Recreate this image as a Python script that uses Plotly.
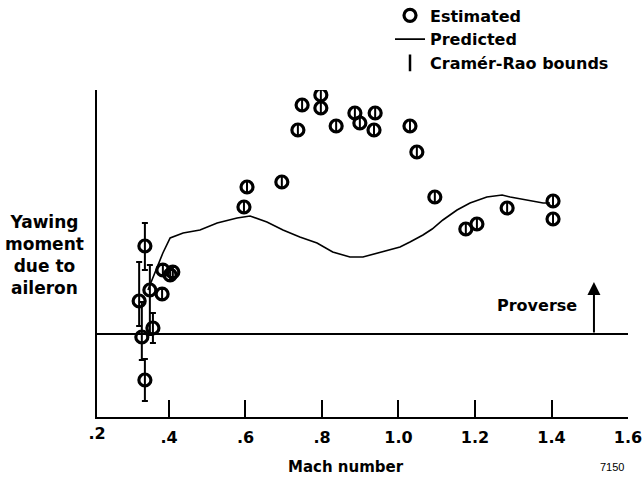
import plotly.graph_objects as go

# ---- data (arbitrary yaw-moment units; 0 = zero line) ----
est_mach = [0.596, 0.604, 0.695, 0.737, 0.748, 0.797, 0.797, 0.837, 0.886, 0.899,
            0.939, 0.936, 1.030, 1.048, 1.095, 1.176, 1.205, 1.284, 1.404, 1.404]
est_yaw = [2.54, 2.94, 3.04, 4.08, 4.58, 4.78, 4.52, 4.16, 4.42, 4.22,
           4.42, 4.08, 4.16, 3.64, 2.74, 2.10, 2.20, 2.52, 2.66, 2.30]
est_cr = [0.1] * len(est_mach)

low_mach = [0.337, 0.322, 0.350, 0.382, 0.384, 0.403, 0.410, 0.358, 0.329, 0.337]
low_yaw = [1.76, 0.66, 0.88, 0.80, 1.28, 1.18, 1.24, 0.12, -0.06, -0.92]
low_cr_plus = [0.46, 0.78, 0.50, 0.10, 0.10, 0.10, 0.10, 0.30, 0.70, 0.42]
low_cr_minus = [0.48, 0.50, 0.90, 0.10, 0.10, 0.10, 0.10, 0.30, 0.46, 0.42]

pred_mach = [0.345, 0.363, 0.384, 0.403, 0.437, 0.481, 0.526, 0.578, 0.612, 0.656,
             0.698, 0.742, 0.787, 0.828, 0.873, 0.907, 0.959, 1.004, 1.030, 1.064,
             1.088, 1.116, 1.153, 1.187, 1.231, 1.271, 1.292, 1.336, 1.378, 1.396]
pred_yaw = [0.88, 1.22, 1.62, 1.92, 2.02, 2.08, 2.22, 2.32, 2.36, 2.24,
            2.08, 1.94, 1.82, 1.64, 1.54, 1.54, 1.64, 1.74, 1.84, 1.98,
            2.10, 2.28, 2.48, 2.62, 2.74, 2.78, 2.74, 2.68, 2.62, 2.62]

tick_vals = [0.4, 0.6, 0.8, 1.0, 1.2, 1.4, 1.6]
tick_text = [".4", ".6", ".8", "1.0", "1.2", "1.4", "1.6"]
first_tick_val = [0.2]
first_tick_text = [".2"]

zero_yaw = 0.0
proverse_mach = 1.511
proverse_len = 1.04

FONT = "DejaVu Sans"
BOLD = dict(family=FONT, size=16, color="black", weight="bold")

marker = dict(symbol="circle-open", size=12, color="black", line=dict(width=3.2, color="black"))

fig = go.Figure()

fig.add_trace(go.Scatter(
    x=pred_mach, y=pred_yaw, mode="lines", name="Predicted",
    line=dict(color="black", width=1.6), legendrank=2))

fig.add_trace(go.Scatter(
    x=est_mach, y=est_yaw, mode="markers", name="Estimated", marker=marker,
    error_y=dict(type="data", array=est_cr, color="black", thickness=2, width=0),
    legendrank=1))

fig.add_trace(go.Scatter(
    x=low_mach, y=low_yaw, mode="markers", name="Estimated", marker=marker,
    showlegend=False,
    error_y=dict(type="data", symmetric=False, array=low_cr_plus, arrayminus=low_cr_minus,
                 color="black", thickness=2, width=3)))

# legend entry for the Cramer-Rao bounds (no data), also carries the '.2' label axis
fig.add_trace(go.Scatter(
    x=[None], y=[None], mode="markers", name="Cramér-Rao bounds", xaxis="x2",
    marker=dict(symbol="line-ns-open", size=12, color="black", line=dict(width=2.5, color="black")),
    legendrank=3))

# zero reference line across the plot
fig.add_shape(type="line", xref="x domain", yref="y", x0=0, x1=1, y0=zero_yaw, y1=zero_yaw,
              line=dict(color="black", width=2), layer="below")

fig.add_annotation(
    x=proverse_mach, y=proverse_len, ax=proverse_mach, ay=zero_yaw, xref="x", yref="y",
    axref="x", ayref="y", showarrow=True, arrowhead=2, arrowsize=1.3, arrowwidth=2,
    arrowcolor="black", text="")
fig.add_annotation(
    x=proverse_mach - 0.04, y=0.58, xref="x", yref="y", xanchor="right", showarrow=False,
    text="Proverse", font=BOLD)

fig.add_annotation(
    x=-0.098, y=0.495, xref="paper", yref="paper", showarrow=False, xanchor="center",
    text="Yawing<br>moment<br>due to<br>aileron", align="center",
    font=dict(family=FONT, size=17, color="black", weight="bold"))
fig.add_annotation(
    x=0.469, y=-0.153, xref="paper", yref="paper", showarrow=False,
    xanchor="center", yanchor="middle",
    text="Mach number", font=dict(family=FONT, size=15, color="black", weight="bold"))
fig.add_annotation(
    x=0.97, y=-0.153, xref="paper", yref="paper", showarrow=False,
    xanchor="center", yanchor="middle",
    text="7150", font=dict(family="Liberation Sans", size=11, color="black"))

fig.update_layout(
    width=642, height=480,
    margin=dict(l=97, r=14, t=90, b=63, autoexpand=False),
    paper_bgcolor="white", plot_bgcolor="white",
    font=dict(family=FONT, color="black"),
    showlegend=True,
    legend=dict(x=0.5518, y=1.28, xanchor="left", yanchor="top", bgcolor="rgba(0,0,0,0)",
                font=dict(family=FONT, size=16, color="black", weight="bold"),
                tracegroupgap=0),
    xaxis=dict(range=[0.2118, 1.6], tickvals=tick_vals, ticktext=tick_text,
               ticks="inside", ticklen=17, tickwidth=2, tickcolor="black",
               ticklabelstandoff=5, ticklabeloverflow="allow",
               showline=True, linewidth=2, linecolor="black", showgrid=False, zeroline=False,
               tickfont=dict(family=FONT, size=16, color="black", weight="bold")),
    xaxis2=dict(range=[0.2, 1.6], overlaying="x", anchor="y", side="bottom",
                tickvals=first_tick_val, ticktext=first_tick_text, ticks="",
                ticklabelstandoff=5, ticklabeloverflow="allow",
                showline=False, showgrid=False, zeroline=False,
                tickfont=dict(family=FONT, size=16, color="black", weight="bold")),
    yaxis=dict(range=[-1.66, 4.88], showticklabels=False, ticks="", showgrid=False,
               showline=True, linewidth=2, linecolor="black", zeroline=False),
)

fig.write_html("out.html", config={"displayModeBar": False},
               post_script="document.body.style.margin='0';document.body.style.overflow='hidden';")
